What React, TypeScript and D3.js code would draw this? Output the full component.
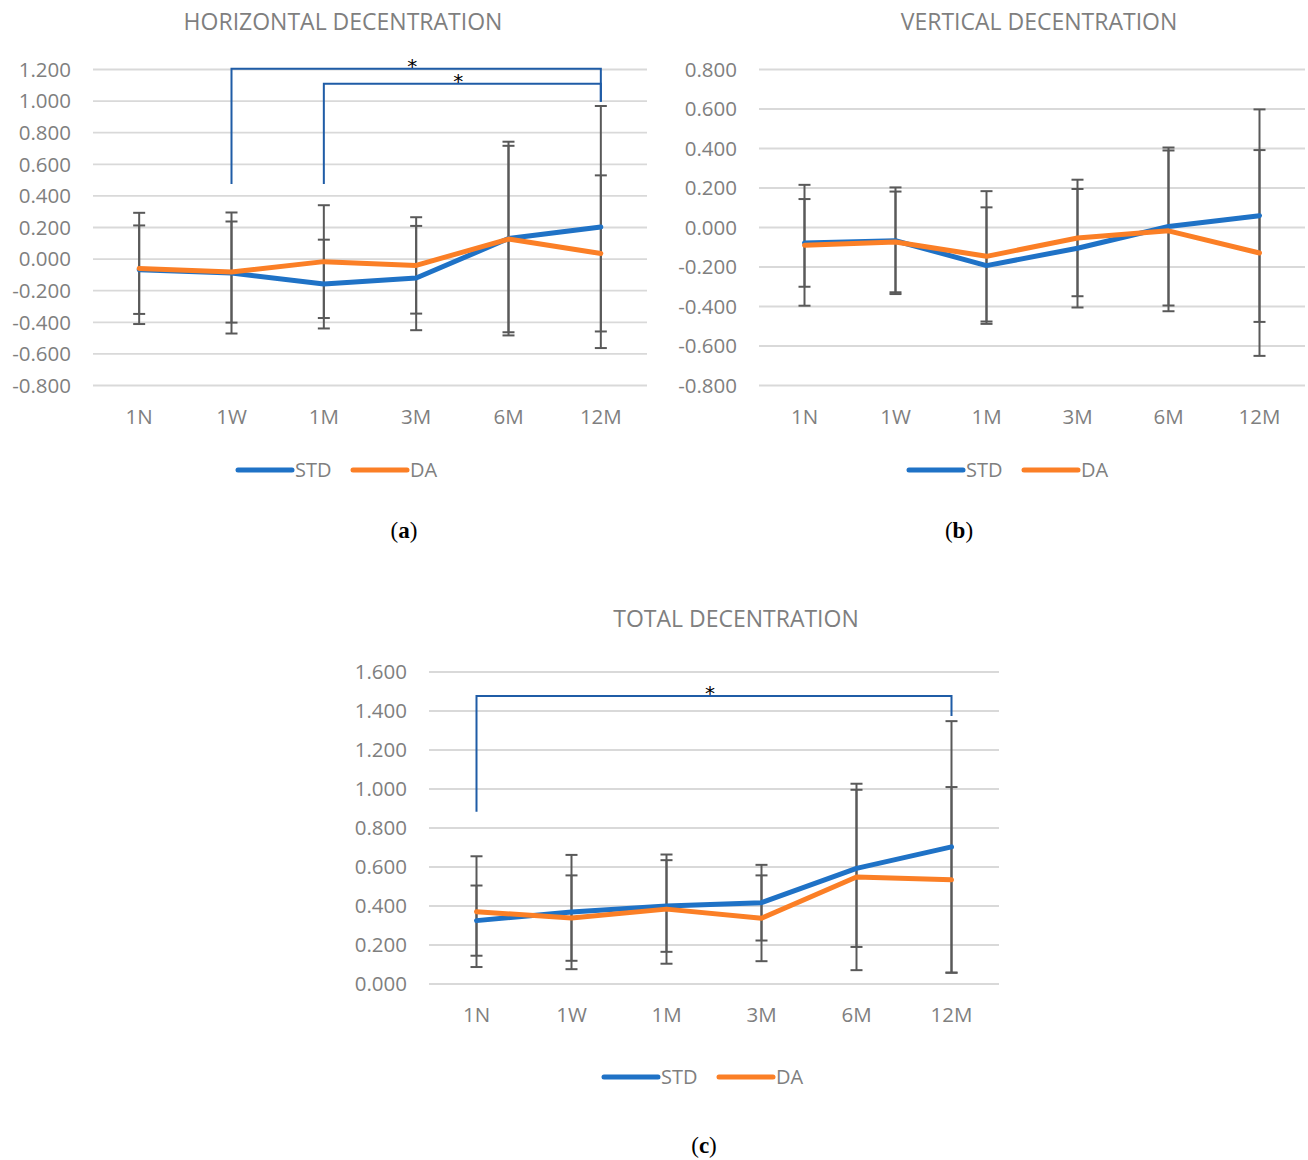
import * as d3 from "d3";

const categories = ["1N", "1W", "1M", "3M", "6M", "12M"];

// horizontal decentration
const hStd = [-0.067, -0.088, -0.158, -0.12, 0.13, 0.203];
const hStdErr = [0.28, 0.383, 0.281, 0.33, 0.613, 0.766];
const hDa = [-0.059, -0.082, -0.016, -0.04, 0.127, 0.036];
const hDaErr = [0.352, 0.32, 0.357, 0.305, 0.59, 0.494];
const hTicks = [-0.8, -0.6, -0.4, -0.2, 0, 0.2, 0.4, 0.6, 0.8, 1.0, 1.2];

// vertical decentration
const vStd = [-0.078, -0.067, -0.193, -0.105, 0.005, 0.06];
const vStdErr = [0.222, 0.27, 0.295, 0.3, 0.4, 0.538];
const vDa = [-0.09, -0.073, -0.146, -0.053, -0.017, -0.129];
const vDaErr = [0.306, 0.255, 0.33, 0.295, 0.407, 0.521];
const vTicks = [-0.8, -0.6, -0.4, -0.2, 0, 0.2, 0.4, 0.6, 0.8];

// total decentration
const tStd = [0.325, 0.369, 0.4, 0.417, 0.593, 0.703];
const tStdErr = [0.18, 0.293, 0.235, 0.194, 0.403, 0.645];
const tDa = [0.371, 0.338, 0.384, 0.337, 0.549, 0.534];
const tDaErr = [0.284, 0.219, 0.28, 0.22, 0.478, 0.476];
const tTicks = [0, 0.2, 0.4, 0.6, 0.8, 1.0, 1.2, 1.4, 1.6];

// significance brackets: from, to, top level, bottom of left leg, bottom of right leg
const hBrackets = [
  { from: "1W", to: "12M", top: 1.205, left: 0.475, right: 0.996 },
  { from: "1M", to: "12M", top: 1.11, left: 0.475, right: 0.996 },
];
const tBrackets = [{ from: "1N", to: "12M", top: 1.477, left: 0.883, right: 1.374 }];

const BLUE = "#1f72c6";
const ORANGE = "#fb7f26";
const TEXT = "#7f7f7f";
const FONT = "'Open Sans', sans-serif";

type Bracket = { from: string; to: string; top: number; left: number; right: number };

type PanelProps = {
  title: string;
  caption: string;
  std: number[];
  stdErr: number[];
  da: number[];
  daErr: number[];
  ticks: number[];
  brackets: Bracket[];
  box: { left: number; right: number; top: number; bottom: number };
  titleX: number;
  titleY: number;
  legendX: number;
  legendY: number;
  captionX: number;
  captionY: number;
};

const Panel = ({ title, caption, std, stdErr, da, daErr, ticks, brackets, box, titleX, titleY, legendX, legendY, captionX, captionY }: PanelProps) => {
  const x = d3.scaleBand().domain(categories).range([box.left, box.right]);
  const y = d3
    .scaleLinear()
    .domain([ticks[0], ticks[ticks.length - 1]])
    .range([box.bottom, box.top]);
  const cx = (c: string) => (x(c) as number) + x.bandwidth() / 2;

  const line = d3
    .line<number>()
    .x((_, i) => cx(categories[i]))
    .y(d => y(d));

  const errBars = (vals: number[], errs: number[], key: string) =>
    vals.map((v, i) => {
      const px = cx(categories[i]);
      const hi = y(v + errs[i]);
      const lo = y(v - errs[i]);
      return (
        <g key={key + i} stroke="#595959" strokeWidth={2}>
          <line x1={px} x2={px} y1={hi} y2={lo} />
          <line x1={px - 6} x2={px + 6} y1={hi} y2={hi} />
          <line x1={px - 6} x2={px + 6} y1={lo} y2={lo} />
        </g>
      );
    });

  return (
    <g>
      <text x={titleX} y={titleY} textAnchor="middle" fontSize={23} fill={TEXT} fontFamily={FONT}>
        {title}
      </text>
      {ticks.map(t => (
        <g key={t}>
          <line x1={box.left} x2={box.right} y1={y(t)} y2={y(t)} stroke="#d9d9d9" strokeWidth={1.8} />
          <text x={box.left - 22} y={y(t)} dy="0.36em" textAnchor="end" fontSize={20.5} fill={TEXT} fontFamily={FONT}>
            {d3.format(".3f")(t).replace("−", "-")}
          </text>
        </g>
      ))}
      {categories.map(c => (
        <text key={c} x={cx(c)} y={box.bottom + 38} textAnchor="middle" fontSize={20.5} fill={TEXT} fontFamily={FONT}>
          {c}
        </text>
      ))}
      {brackets.map((b, i) => {
        const x1 = cx(b.from);
        const x2 = cx(b.to);
        const yt = y(b.top);
        return (
          <g key={"b" + i}>
            <path
              d={`M${x1},${y(b.left)}V${yt}H${x2}V${y(b.right)}`}
              fill="none"
              stroke="#1f5ca6"
              strokeWidth={2}
            />
            <text x={(x1 + x2) / 2 - 4} y={yt + 4} textAnchor="middle" fontSize={20} fill="#000" fontFamily="'DejaVu Sans', sans-serif">
              *
            </text>
          </g>
        );
      })}
      {errBars(std, stdErr, "s")}
      {errBars(da, daErr, "d")}
      <path d={line(std) ?? ""} fill="none" stroke={BLUE} strokeWidth={5} strokeLinejoin="round" strokeLinecap="round" />
      <path d={line(da) ?? ""} fill="none" stroke={ORANGE} strokeWidth={5} strokeLinejoin="round" strokeLinecap="round" />
      <g fontSize={20} fill={TEXT} fontFamily={FONT}>
        <line x1={legendX} x2={legendX + 54} y1={legendY} y2={legendY} stroke={BLUE} strokeWidth={5} strokeLinecap="round" />
        <text x={legendX + 57} y={legendY} dy="0.36em">STD</text>
        <line x1={legendX + 115} x2={legendX + 169} y1={legendY} y2={legendY} stroke={ORANGE} strokeWidth={5} strokeLinecap="round" />
        <text x={legendX + 172} y={legendY} dy="0.36em">DA</text>
      </g>
      <text x={captionX} y={captionY} textAnchor="middle" fontSize={23} fill="#000" fontFamily="'Liberation Serif', serif">
        (<tspan fontWeight="bold">{caption}</tspan>)
      </text>
    </g>
  );
};

export default function App() {
  return (
    <>
      <style>{`body{margin:0}`}</style>
      <svg width={1308} height={1160} style={{ display: "block", background: "#fff" }}>
        <Panel
          title="HORIZONTAL DECENTRATION"
          caption="a"
          std={hStd}
          stdErr={hStdErr}
          da={hDa}
          daErr={hDaErr}
          ticks={hTicks}
          brackets={hBrackets}
          box={{ left: 93, right: 647, top: 69.5, bottom: 385.5 }}
          titleX={343}
          titleY={30}
          legendX={238}
          legendY={470}
          captionX={404}
          captionY={538}
        />
        <Panel
          title="VERTICAL DECENTRATION"
          caption="b"
          std={vStd}
          stdErr={vStdErr}
          da={vDa}
          daErr={vDaErr}
          ticks={vTicks}
          brackets={[]}
          box={{ left: 759, right: 1305, top: 69.5, bottom: 385.5 }}
          titleX={1039}
          titleY={30}
          legendX={909}
          legendY={470}
          captionX={959}
          captionY={538}
        />
        <Panel
          title="TOTAL DECENTRATION"
          caption="c"
          std={tStd}
          stdErr={tStdErr}
          da={tDa}
          daErr={tDaErr}
          ticks={tTicks}
          brackets={tBrackets}
          box={{ left: 429, right: 999, top: 672, bottom: 984 }}
          titleX={736}
          titleY={627}
          legendX={604}
          legendY={1077}
          captionX={704}
          captionY={1153}
        />
      </svg>
    </>
  );
}
